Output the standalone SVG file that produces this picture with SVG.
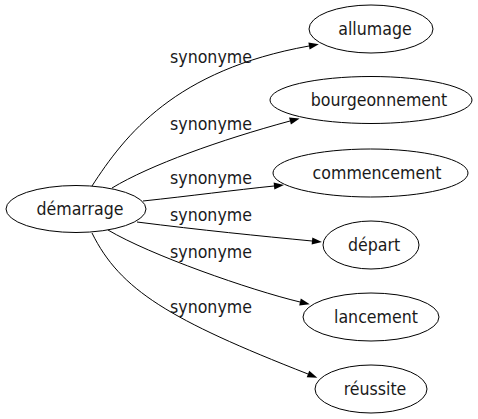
<svg xmlns="http://www.w3.org/2000/svg" width="478" height="419" viewBox="0 0 478 419">
<style>
.n ellipse{fill:#fff;stroke:#000;stroke-width:1}
text{font-family:"DejaVu Sans Condensed","DejaVu Sans",sans-serif;font-stretch:condensed;font-size:17.6px;fill:#1a1a1a;text-anchor:middle}
.e path{fill:none;stroke:#000;stroke-width:1;marker-end:url(#ah)}
</style>
<defs>
<marker id="ah" markerUnits="userSpaceOnUse" markerWidth="10" markerHeight="7" refX="0" refY="3.5" orient="auto" overflow="visible">
<path d="M0,0 L10,3.5 L0,7 z" fill="#000"/>
</marker>
</defs>
<rect width="478" height="419" fill="#fff"/>
<g id="edges" class="e">
<path d="M92,186 C125,135 175,70 309,46"/>
<path d="M112,188 C150,165 220,140 290,121"/>
<path d="M143,201 C190,196 235,190 274,186"/>
<path d="M137,222 C200,230 260,236 312,241"/>
<path d="M108,230 C150,255 250,290 300,302"/>
<path d="M92,233 C120,290 170,320 308,374"/>
</g>
<g id="edge-labels">
<text x="211" y="63">synonyme</text>
<text x="211" y="130">synonyme</text>
<text x="211" y="184">synonyme</text>
<text x="211" y="221">synonyme</text>
<text x="211" y="258">synonyme</text>
<text x="211" y="313">synonyme</text>
</g>
<g id="n-demarrage" class="n"><ellipse cx="76" cy="209" rx="70" ry="23.5"/><text x="80" y="215">démarrage</text></g>
<g id="n-allumage" class="n"><ellipse cx="371" cy="29" rx="62" ry="24"/><text x="375" y="35">allumage</text></g>
<g id="n-bourgeonnement" class="n"><ellipse cx="371" cy="100" rx="101" ry="23.5"/><text x="379" y="106">bourgeonnement</text></g>
<g id="n-commencement" class="n"><ellipse cx="370.5" cy="173" rx="97.5" ry="24"/><text x="377" y="179">commencement</text></g>
<g id="n-depart" class="n"><ellipse cx="371" cy="245" rx="48" ry="24"/><text x="374" y="251">départ</text></g>
<g id="n-lancement" class="n"><ellipse cx="371" cy="317" rx="68" ry="24"/><text x="376" y="323">lancement</text></g>
<g id="n-reussite" class="n"><ellipse cx="371" cy="389" rx="56" ry="24"/><text x="375" y="395">réussite</text></g>
</svg>
